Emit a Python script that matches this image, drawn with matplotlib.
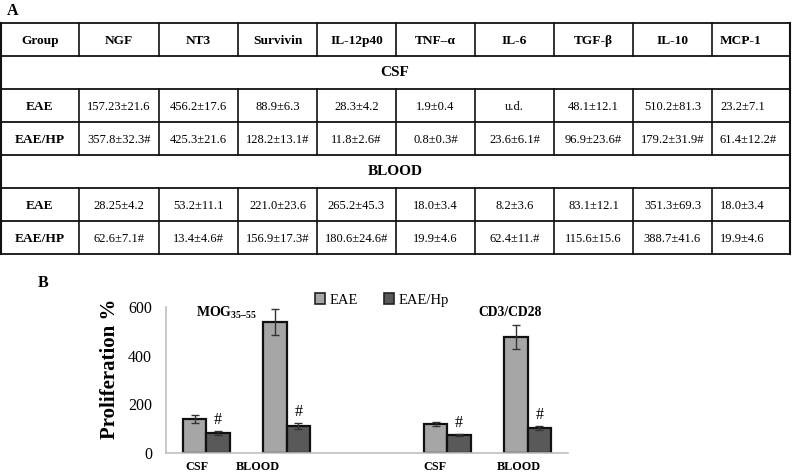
import matplotlib
matplotlib.use("Agg")
import matplotlib.pyplot as plt
from matplotlib.patches import Patch
import numpy as np

plt.rcParams["font.family"] = ["Liberation Serif", "DejaVu Serif"]
plt.rcParams["mathtext.fontset"] = "custom"
plt.rcParams["mathtext.rm"] = "Liberation Serif"
plt.rcParams["mathtext.bf"] = "Liberation Serif:bold"

# --- panel A : table ---
header = ["Group", "NGF", "NT3", "Survivin", "IL-12p40", "TNF\u2013\u03b1", "IL-6", "TGF-\u03b2", "IL-10", "MCP-1"]
groups = ["EAE", "EAE/HP"]
csf_eae = ["157.23±21.6", "456.2±17.6", "88.9±6.3", "28.3±4.2", "1.9±0.4", "u.d.",
           "48.1±12.1", "510.2±81.3", "23.2±7.1"]
csf_hp = ["357.8±32.3#", "425.3±21.6", "128.2±13.1#", "11.8±2.6#", "0.8±0.3#", "23.6±6.1#",
          "96.9±23.6#", "179.2±31.9#", "61.4±12.2#"]
blood_eae = ["28.25±4.2", "53.2±11.1", "221.0±23.6", "265.2±45.3", "18.0±3.4", "8.2±3.6",
             "83.1±12.1", "351.3±69.3", "18.0±3.4"]
blood_hp = ["62.6±7.1#", "13.4±4.6#", "156.9±17.3#", "180.6±24.6#", "19.9±4.6", "62.4±11.#",
            "115.6±15.6", "388.7±41.6", "19.9±4.6"]

# --- panel B : proliferation bars ---
categories = ["CSF", "BLOOD", "", "CSF", "BLOOD"]
eae_mean = [140, 538, np.nan, 119, 477]
eae_err = [15, 55, np.nan, 10, 50]
hp_mean = [82, 112, np.nan, 74, 103]
hp_err = [8, 12, np.nan, 5, 8]
label_pos = [-0.11, 0.64, 2.85, 3.89]
label_txt = ["CSF", "BLOOD", "CSF", "BLOOD"]

W, H = 793, 474
fig = plt.figure(figsize=(W / 100, H / 100), dpi=100)

# table drawn in pixel coordinates
tab = fig.add_axes([0, 0, 1, 1])
tab.set_xlim(0, W)
tab.set_ylim(H, 0)
tab.axis("off")

cols = [1, 79, 159, 238, 317, 396, 475, 554, 633, 712, 790]
rows = [23, 56, 89, 122, 155, 188, 221, 254]
lc = "#111111"
for y in rows:
    tab.plot([cols[0], cols[-1]], [y, y], color=lc, lw=1.3)
tab.plot([cols[0], cols[0]], [rows[0], rows[-1]], color=lc, lw=1.5)
tab.plot([cols[-1], cols[-1]], [rows[0], rows[-1]], color=lc, lw=1.5)
for i in range(1, len(cols) - 1):
    for r0, r1 in [(0, 1), (2, 4), (5, 7)]:
        tab.plot([cols[i], cols[i]], [rows[r0], rows[r1]], color=lc, lw=1.2)


def row_text(items, r, bold=False, size=9.0):
    yc = (rows[r] + rows[r + 1]) / 2 + 1.5
    for i, t in enumerate(items):
        if i == len(items) - 1:
            tab.text(cols[i] + 8, yc, t, ha="left", va="center", fontsize=size,
                     fontweight="bold" if bold else "normal")
        else:
            tab.text((cols[i] + cols[i + 1]) / 2, yc, t, ha="center", va="center",
                     fontsize=size, fontweight="bold" if bold else "normal")


row_text(header, 0, bold=True, size=9.6)
tab.text(395, (rows[1] + rows[2]) / 2, "CSF", ha="center", va="center", fontsize=11, fontweight="bold")
tab.text(395, (rows[4] + rows[5]) / 2, "BLOOD", ha="center", va="center", fontsize=11, fontweight="bold")
for r, vals, g in [(2, csf_eae, groups[0]), (3, csf_hp, groups[1]),
                   (5, blood_eae, groups[0]), (6, blood_hp, groups[1])]:
    yc = (rows[r] + rows[r + 1]) / 2 + 1.5
    tab.text((cols[0] + cols[1]) / 2, yc, g, ha="center", va="center", fontsize=9.6, fontweight="bold")
    row_text([""] + vals, r)

tab.text(7, 11, "A", ha="left", va="center", fontsize=11.5, fontweight="bold")
tab.text(38, 283, "B", ha="left", va="center", fontsize=11.5, fontweight="bold")

# bar chart
ax = fig.add_axes([166 / W, 21 / H, (568 - 166) / W, 146 / H])
x = np.arange(len(categories))
bw = 0.29
c_eae, c_hp = "#a6a6a6", "#595959"
ax.bar(x - bw / 2, eae_mean, bw, yerr=eae_err, color=c_eae, edgecolor="#111111", lw=1.6,
       error_kw=dict(ecolor="#333333", elinewidth=1, capsize=3, capthick=1), label="EAE")
ax.bar(x + bw / 2, hp_mean, bw, yerr=hp_err, color=c_hp, edgecolor="#111111", lw=1.6,
       error_kw=dict(ecolor="#333333", elinewidth=1, capsize=3, capthick=1), label="EAE/Hp")
for xi, m, e in zip(x, hp_mean, hp_err):
    if np.isnan(m):
        continue
    ax.annotate("#", (xi + bw / 2, m + e), xytext=(0, 2), textcoords="offset points",
                ha="center", va="bottom", fontsize=11.5)

ax.set_xlim(-0.5, 4.5)
ax.set_ylim(0, 600)
ax.set_yticks([0, 200, 400, 600])
ax.set_xticks(label_pos)
ax.set_xticklabels(label_txt, fontsize=8.7, fontweight="bold")
ax.tick_params(axis="both", length=0)
ax.tick_params(axis="y", labelsize=11.5, pad=10)
ax.tick_params(axis="x", pad=6)
for s in ["top", "right"]:
    ax.spines[s].set_visible(False)
for s in ["left", "bottom"]:
    ax.spines[s].set_color("#bfbfbf")
    ax.spines[s].set_linewidth(1.2)
ax.set_ylabel("Proliferation %", fontsize=15, fontweight="bold", labelpad=5)
ax.yaxis.set_label_coords(-0.115, 0.58)
ax.patch.set_alpha(0)

ax.text(0.25, 575, "$\\mathbf{MOG}_{\\mathbf{35\u201355}}$", ha="center", va="center", fontsize=10)
ax.text(3.78, 578, "CD3/CD28", ha="center", va="center", fontsize=9.8, fontweight="bold")

handles = [Patch(facecolor=c_eae, edgecolor="#222222", lw=1.2, label="EAE"),
           Patch(facecolor=c_hp, edgecolor="#222222", lw=1.2, label="EAE/Hp")]
fig.legend(handles=handles, loc="center", bbox_to_anchor=(382 / W, 1 - 300 / H), ncol=2,
           frameon=False, fontsize=10.5, handlelength=0.7, handleheight=0.7,
           handletextpad=0.3, columnspacing=1.8)

fig.savefig("out.png", dpi=100)
